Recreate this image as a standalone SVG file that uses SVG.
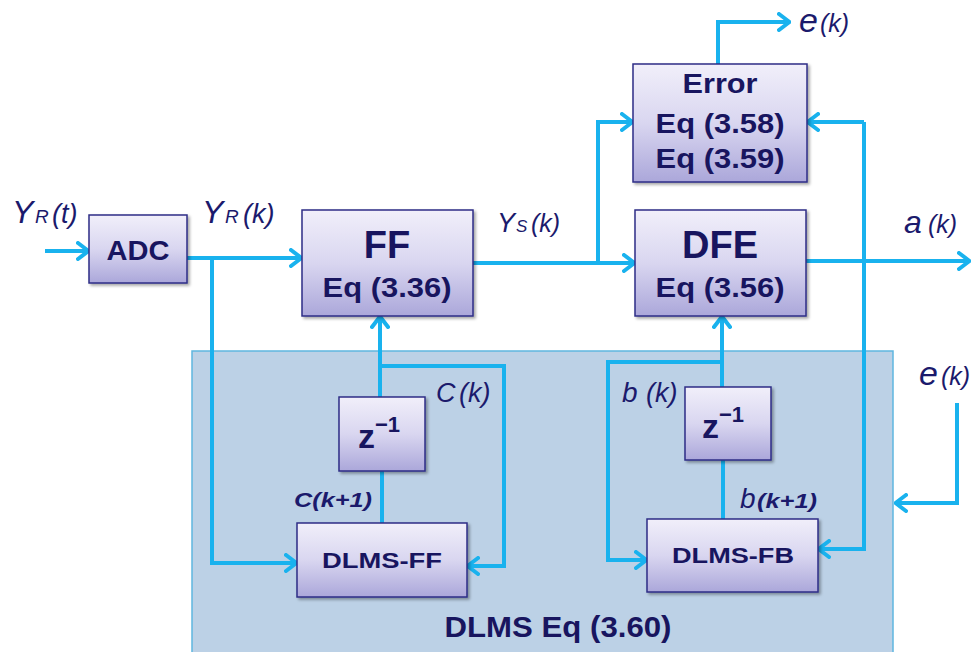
<svg xmlns="http://www.w3.org/2000/svg" width="979" height="652" viewBox="0 0 979 652">
<defs>
<linearGradient id="boxg" x1="0" y1="0" x2="0" y2="1">
<stop offset="0" stop-color="#f1effa"/>
<stop offset="0.5" stop-color="#d9d6f0"/>
<stop offset="1" stop-color="#aba7da"/>
</linearGradient>
<filter id="sh" x="-10%" y="-10%" width="130%" height="130%">
<feDropShadow dx="2" dy="2" stdDeviation="1.5" flood-color="#000" flood-opacity="0.35"/>
</filter>
<marker id="ar" viewBox="0 0 14 20" refX="13" refY="10" markerWidth="14" markerHeight="20" markerUnits="userSpaceOnUse" orient="auto">
<path d="M2,2 L12.5,10 L2,18" fill="none" stroke="#19b2ee" stroke-width="4" stroke-linecap="round" stroke-linejoin="round"/>
</marker>
<style>
.box{fill:url(#boxg);stroke:#2e2d86;stroke-width:1.5;filter:url(#sh)}
.bt{font-family:"Liberation Sans",Arial,sans-serif;font-weight:bold;fill:#18155f;text-anchor:middle}
.zt{font-family:"Liberation Sans",Arial,sans-serif;font-weight:bold;fill:#18155f}
.lab{font-family:"Liberation Sans",Arial,sans-serif;font-style:italic;fill:#1b1a6c}
.bi{font-weight:bold}
.ln{fill:none;stroke:#19b2ee;stroke-width:4;stroke-linejoin:miter}
.arr{marker-end:url(#ar)}
</style>
</defs>
<rect width="979" height="652" fill="#ffffff"/>

<g id="dlms-region">
<rect x="192" y="351" width="701" height="310" fill="#bcd1e6" stroke="#5fb6e0" stroke-width="1.5"/>
<text class="bt" x="558" y="637" font-size="29" textLength="227" lengthAdjust="spacingAndGlyphs">DLMS Eq (3.60)</text>
</g>

<g id="connectors">
<path class="ln arr" d="M45,251 H89"/>
<path class="ln arr" d="M187,258 H302"/>
<path class="ln arr" d="M212,258 V563 H297"/>
<path class="ln arr" d="M473,263 H635"/>
<path class="ln arr" d="M598,263 V122 H633"/>
<path class="ln arr" d="M718,64 V22 H790"/>
<path class="ln arr" d="M864,122 H807"/>
<path class="ln arr" d="M864,122 V549 H818"/>
<path class="ln arr" d="M806,261 H970"/>
<path class="ln arr" d="M380,397 V316"/>
<path class="ln arr" d="M380,366 H504 V566 H467"/>
<path class="ln" d="M382,471 V523"/>
<path class="ln arr" d="M722,387 V316"/>
<path class="ln arr" d="M722,362 H608 V560 H647"/>
<path class="ln" d="M723,460 V519"/>
<path class="ln arr" d="M957,403 V503 H895"/>
</g>

<g id="adc">
<rect class="box" x="89" y="215" width="98" height="68"/>
<text class="bt" x="138" y="260" font-size="28" textLength="63" lengthAdjust="spacingAndGlyphs">ADC</text>
</g>

<g id="ff">
<rect class="box" x="302" y="210" width="171" height="106"/>
<text class="bt" x="387" y="258" font-size="38">FF</text>
<text class="bt" x="387" y="297" font-size="28" textLength="129" lengthAdjust="spacingAndGlyphs">Eq (3.36)</text>
</g>

<g id="dfe">
<rect class="box" x="635" y="210" width="171" height="106"/>
<text class="bt" x="720" y="258" font-size="38">DFE</text>
<text class="bt" x="720" y="297" font-size="28" textLength="129" lengthAdjust="spacingAndGlyphs">Eq (3.56)</text>
</g>

<g id="error">
<rect class="box" x="633" y="64" width="174" height="118"/>
<text class="bt" x="720" y="93" font-size="28" textLength="75" lengthAdjust="spacingAndGlyphs">Error</text>
<text class="bt" x="720" y="133" font-size="28" textLength="129" lengthAdjust="spacingAndGlyphs">Eq (3.58)</text>
<text class="bt" x="720" y="168" font-size="28" textLength="129" lengthAdjust="spacingAndGlyphs">Eq (3.59)</text>
</g>

<g id="z-ff">
<rect class="box" x="339" y="397" width="86" height="74"/>
<text class="zt" x="358" y="448" font-size="34">z<tspan font-size="22" dy="-16">−1</tspan></text>
</g>

<g id="dlms-ff">
<rect class="box" x="297" y="523" width="170" height="74"/>
<text class="bt" x="382" y="568" font-size="22" textLength="120" lengthAdjust="spacingAndGlyphs">DLMS-FF</text>
</g>

<g id="z-fb">
<rect class="box" x="685" y="387" width="86" height="73"/>
<text class="zt" x="702" y="438" font-size="34">z<tspan font-size="22" dy="-16">−1</tspan></text>
</g>

<g id="dlms-fb">
<rect class="box" x="647" y="519" width="171" height="73"/>
<text class="bt" x="733" y="563" font-size="22" textLength="122" lengthAdjust="spacingAndGlyphs">DLMS-FB</text>
</g>

<g id="labels">
<text class="lab" y="223"><tspan x="12" font-size="32">Y</tspan><tspan x="35" font-size="19">R</tspan><tspan x="52" font-size="27">(t)</tspan></text>
<text class="lab" y="223"><tspan x="202" font-size="32">Y</tspan><tspan x="225" font-size="19">R</tspan><tspan x="243" font-size="27">(k)</tspan></text>
<text class="lab" y="232"><tspan x="497" font-size="27">Y</tspan><tspan x="516" font-size="17">S</tspan><tspan x="531" font-size="25">(k)</tspan></text>
<text class="lab" y="233"><tspan x="904" font-size="32">a</tspan><tspan x="928" font-size="25">(k)</tspan></text>
<text class="lab" y="32"><tspan x="799" font-size="34">e</tspan><tspan x="820" font-size="25">(k)</tspan></text>
<text class="lab" y="385"><tspan x="919" font-size="34">e</tspan><tspan x="941" font-size="25">(k)</tspan></text>
<text class="lab" y="402"><tspan x="436" font-size="27">C</tspan><tspan x="459" font-size="27">(k)</tspan></text>
<text class="lab bi" x="294" y="507" font-size="20" textLength="78" lengthAdjust="spacingAndGlyphs">C(k+1)</text>
<text class="lab" y="402"><tspan x="622" font-size="28">b</tspan><tspan x="646" font-size="27">(k)</tspan></text>
<text class="lab" y="508"><tspan x="740" font-size="28">b</tspan><tspan x="757" font-size="20" class="bi" textLength="60" lengthAdjust="spacingAndGlyphs">(k+1)</tspan></text>
</g>
</svg>
